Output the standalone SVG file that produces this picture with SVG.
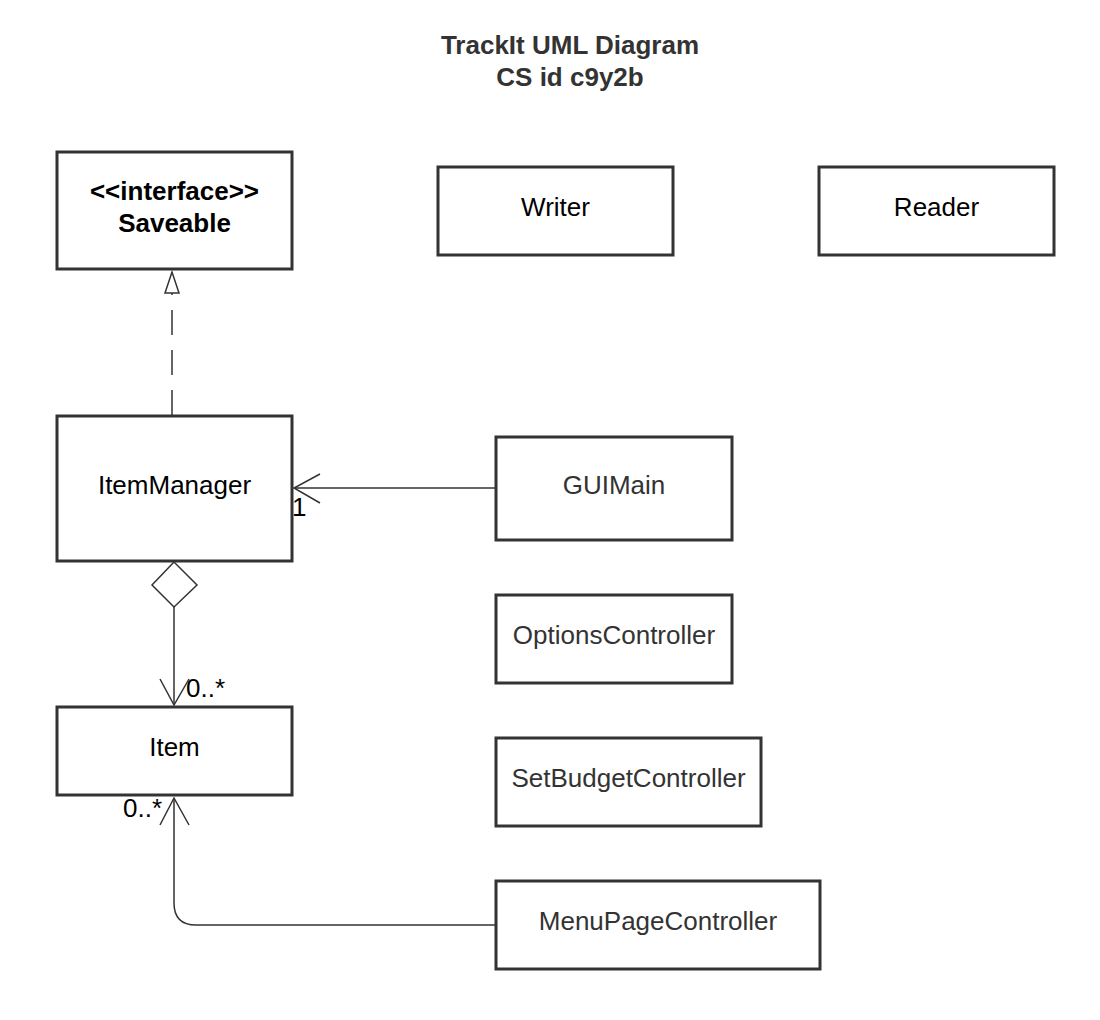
<svg xmlns="http://www.w3.org/2000/svg" width="1100" height="1020" viewBox="0 0 1100 1020">
<style>
.box{fill:#fff;stroke:#333;stroke-width:3}
.t{font-family:"Liberation Sans",Arial,sans-serif;font-size:26px;text-anchor:middle}
.dark{fill:#333}
.blk{fill:#000}
.b{font-weight:bold}
.ln{fill:none;stroke:#333;stroke-width:1.5}
.lab{font-family:"Liberation Sans",Arial,sans-serif;font-size:26px;fill:#000}
</style>
<rect width="1100" height="1020" fill="#fff"/>
<g id="title">
<text class="t b dark" x="570" y="54">TrackIt UML Diagram</text>
<text class="t b dark" x="570" y="86">CS id c9y2b</text>
</g>
<g id="saveable">
<rect class="box" x="57" y="152" width="235" height="117"/>
<text class="t b blk" x="174.5" y="200">&lt;&lt;interface&gt;&gt;</text>
<text class="t b blk" x="174.5" y="232">Saveable</text>
</g>
<g id="writer">
<rect class="box" x="438" y="167" width="235" height="88"/>
<text class="t blk" x="555.5" y="216">Writer</text>
</g>
<g id="reader">
<rect class="box" x="819" y="167" width="235" height="88"/>
<text class="t blk" x="936.5" y="216">Reader</text>
</g>
<g id="itemmanager">
<rect class="box" x="57" y="416" width="235" height="145"/>
<text class="t blk" x="174.5" y="494">ItemManager</text>
</g>
<g id="item">
<rect class="box" x="57" y="707" width="235" height="88"/>
<text class="t blk" x="174.5" y="756">Item</text>
</g>
<g id="guimain">
<rect class="box" x="496" y="437" width="236" height="103"/>
<text class="t dark" x="614" y="494">GUIMain</text>
</g>
<g id="optionscontroller">
<rect class="box" x="496" y="595" width="236" height="88"/>
<text class="t dark" x="614" y="644">OptionsController</text>
</g>
<g id="setbudgetcontroller">
<rect class="box" x="496" y="738" width="265" height="88"/>
<text class="t dark" x="628.5" y="787">SetBudgetController</text>
</g>
<g id="menupagecontroller">
<rect class="box" x="496" y="881" width="324" height="88"/>
<text class="t dark" x="658" y="930">MenuPageController</text>
</g>
<g id="connectors">
<path class="ln" d="M172,415 V293" stroke-dasharray="25,15"/>
<path class="ln" d="M172,272 L165,293 H179 Z" fill="#fff"/>
<path class="ln" d="M495,488 H294"/>
<path class="ln" d="M320,474 L294,488 L320,503"/>
<text class="lab" x="292" y="516">1</text>
<path class="ln" d="M174,562 L152,585 L174,607 L197,585 Z" fill="#fff"/>
<path class="ln" d="M174,607 V705"/>
<path class="ln" d="M160,679 L174,705 L189,679"/>
<text class="lab" x="186" y="697">0..*</text>
<path class="ln" d="M495,925 H196 Q174,925 174,903 V798"/>
<path class="ln" d="M160,825 L174,798 L189,825"/>
<text class="lab" x="123" y="817">0..*</text>
</g>
</svg>
